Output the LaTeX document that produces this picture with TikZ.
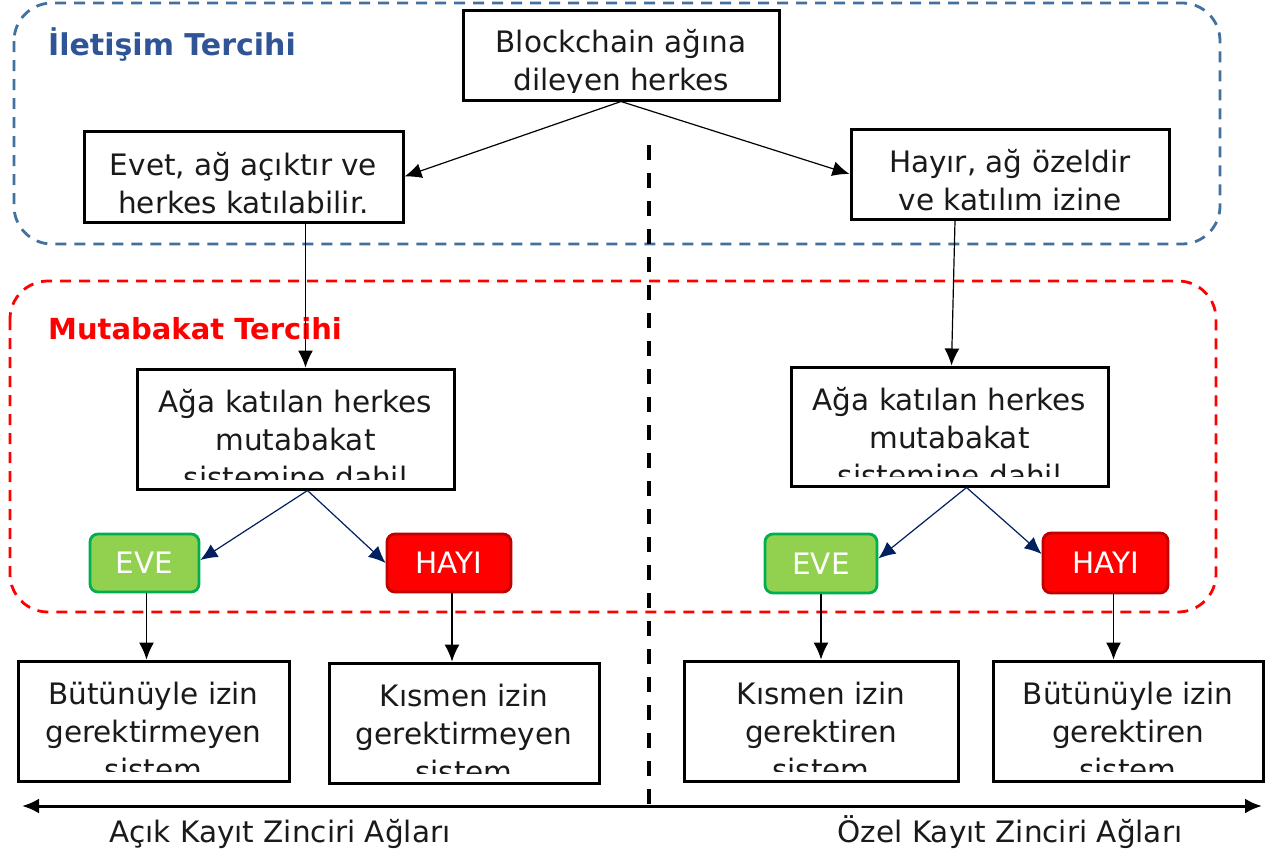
\documentclass[tikz,border=0pt]{standalone}
\usepackage{fontspec}
\setmainfont{DejaVu Sans}
\usetikzlibrary{arrows.meta}
\definecolor{grpblue}{HTML}{41719C}
\definecolor{titleblue}{HTML}{2F5597}
\definecolor{navy}{HTML}{002060}
\definecolor{evefill}{HTML}{92D050}
\definecolor{eveline}{HTML}{00B050}
\definecolor{hayline}{HTML}{C00000}
\definecolor{txtcol}{HTML}{1A1A1A}
\tikzset{
  box/.style={draw=black, line width=3pt, inner sep=0pt},
  txt/.style={inner sep=0pt, align=center, text=txtcol, font=\fontsize{29.5}{38}\selectfont},
  grp/.style={line width=2.8pt, dash pattern=on 11pt off 8pt, rounded corners=38pt},
  conn/.style={line width=1.2pt, -{Latex[length=17pt,width=15pt]}},
  navyconn/.style={conn, draw=navy, -{Latex[length=17pt,width=15pt]}},
  yesbox/.style={draw=eveline, fill=evefill, line width=2.8pt, rounded corners=8pt, text=white, font=\fontsize{29.5}{35}\selectfont},
  nobox/.style={draw=hayline, fill=red, line width=2.8pt, rounded corners=8pt, text=white, font=\fontsize{29.5}{35}\selectfont},
  title/.style={inner sep=0pt, anchor=base west, font=\bfseries\fontsize{30}{36}\selectfont},
  axislabel/.style={inner sep=0pt, anchor=base, text=txtcol, font=\fontsize{29.5}{36}\selectfont}
}
% #1 node name, #2 offset of text top below box top, #3 clip inset from box bottom, #4 text
\newcommand{\boxtext}[4]{%
  \begin{scope}
    \clip ([yshift=#3]#1.south west) rectangle (#1.north east);
    \node[txt, anchor=north] at ([yshift=-#2]#1.north) {\strut #4};
  \end{scope}}
\begin{document}
\begin{tikzpicture}[x=1pt,y=-1pt]
\useasboundingbox[fill=white] (0,0) rectangle (1268,852);

% group frames
\draw[grp, draw=grpblue] (14,3) rectangle (1220,244);
\draw[grp, draw=red] (10,281) rectangle (1216,612);
\node[title, text=titleblue] (t1) at (48,55) {İletişim Tercihi};
\node[title, text=red, font=\bfseries\fontsize{29}{36}\selectfont] (t2) at (48,339) {Mutabakat Tercihi};

% divider
\draw[line width=3.5pt, dash pattern=on 15pt off 13pt] (649,145) -- (649,808);

% boxes
\node[box, minimum width=316pt, minimum height=90pt] (T) at (621,55) {};
\boxtext{T}{17pt}{9pt}{Blockchain ağına\\dileyen herkes}
\node[box, minimum width=319pt, minimum height=91pt] (E) at (243.5,176.5) {};
\boxtext{E}{19pt}{6pt}{Evet, ağ açıktır ve\\herkes katılabilir.}
\node[box, minimum width=318pt, minimum height=90pt] (H) at (1010,174) {};
\boxtext{H}{18pt}{6pt}{Hayır, ağ özeldir\\ve katılım izine}

\node[box, minimum width=317pt, minimum height=120pt] (A1) at (295.5,429) {};
\boxtext{A1}{18pt}{11pt}{Ağa katılan herkes\\mutabakat\\sistemine dahil}
\node[box, minimum width=317pt, minimum height=119pt] (A2) at (949.5,426.5) {};
\boxtext{A2}{18pt}{11pt}{Ağa katılan herkes\\mutabakat\\sistemine dahil}

\node[yesbox, minimum width=109pt, minimum height=58pt] (Y1) at (144.5,563) {EVE};
\node[nobox, minimum width=124pt, minimum height=58pt] (N1) at (449,563) {HAYI};
\node[yesbox, minimum width=112pt, minimum height=59pt] (Y2) at (821,563.5) {EVE};
\node[nobox, minimum width=125pt, minimum height=60pt] (N2) at (1105.5,563) {HAYI};

\node[box, minimum width=271pt, minimum height=120pt] (B1) at (153.5,721) {};
\boxtext{B1}{18pt}{11pt}{Bütünüyle izin\\gerektirmeyen\\sistem}
\node[box, minimum width=270pt, minimum height=120pt] (B2) at (464,723) {};
\boxtext{B2}{18pt}{11pt}{Kısmen izin\\gerektirmeyen\\sistem}
\node[box, minimum width=274pt, minimum height=120pt] (B3) at (821,721) {};
\boxtext{B3}{18pt}{11pt}{Kısmen izin\\gerektiren\\sistem}
\node[box, minimum width=270pt, minimum height=120pt] (B4) at (1128,721) {};
\boxtext{B4}{18pt}{11pt}{Bütünüyle izin\\gerektiren\\sistem}

% connectors
\draw[conn] (T.south) -- (E.east);
\draw[conn] (T.south) -- (H.west);
\draw[conn] ([xshift=62pt]E.south) -- ([xshift=10pt]A1.north);
\draw[conn] ([xshift=-55pt]H.south) -- ([xshift=2pt]A2.north);

\draw[navyconn] ([xshift=12pt]A1.south) -- ([yshift=3pt]Y1.east);
\draw[navyconn] ([xshift=12pt]A1.south) -- (N1.west);
\draw[navyconn] ([xshift=17pt]A2.south) -- ([yshift=5pt]Y2.east);
\draw[navyconn] ([xshift=17pt]A2.south) -- ([yshift=9pt]N2.west);

\draw[conn] ([xshift=2pt]Y1.south) -- ([xshift=2pt]Y1.south |- B1.north);
\draw[conn] ([xshift=3pt]N1.south) -- ([xshift=3pt]N1.south |- B2.north);
\draw[conn] (Y2.south) -- (Y2.south |- B3.north);
\draw[conn] ([xshift=8pt]N2.south) -- ([xshift=8pt]N2.south |- B4.north);

% axis
\coordinate (axL) at (22,806);
\coordinate (axR) at (1262,806);
\draw[line width=3pt, {Latex[length=17pt,width=15pt]}-{Latex[length=17pt,width=15pt]}] (axL) -- (axR);
\node[axislabel] (l1) at (280,842) {Açık Kayıt Zinciri Ağları};
\node[axislabel] (l2) at (1010,842) {Özel Kayıt Zinciri Ağları};
\end{tikzpicture}
\end{document}
